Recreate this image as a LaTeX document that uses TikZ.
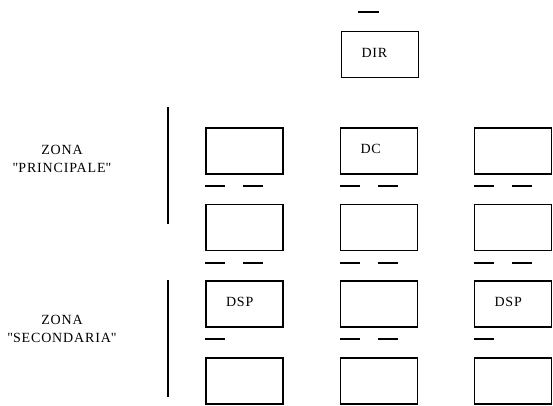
\documentclass[tikz,border=0pt]{standalone}
\usepackage{fontspec}
\setmainfont{Liberation Serif}[LetterSpace=6]
\usetikzlibrary{positioning,calc}

\begin{document}
\begin{tikzpicture}[x=1pt,y=-1pt]
        \tikzset{
            unit/.style={draw, line width=1.4pt, minimum height=46pt,
                text width=37pt, inner xsep=20pt, inner ysep=0pt,
                align=left, text depth=4pt, font=\fontsize{14}{17}\selectfont},
            zone/.style={align=center, font=\fontsize{14}{18.5}\selectfont},
            stub/.style={line width=1.6pt},
            bar/.style={line width=1.6pt},
        }
        \useasboundingbox (0,0) rectangle (553,405);

        % top
        \node[unit] (dir) at (380,54.5) {DIR};

        % zona principale
        \node[unit] (p1l) at (244.5,151) {};
        \node[unit] (dc) at (379,151) {DC};
        \node[unit] (p1r) at (513,151) {};
        \node[unit] (p2l) at (244.5,227.5) {};
        \node[unit] (p2c) at (379,227.5) {};
        \node[unit] (p2r) at (513,227.5) {};

        % zona secondaria
        \node[unit] (dspl) at (244.5,304) {DSP};
        \node[unit] (s1c) at (379,304) {};
        \node[unit] (dspr) at (513,304) {DSP};
        \node[unit] (s2l) at (244.5,381) {};
        \node[unit] (s2c) at (379,381) {};
        \node[unit] (s2r) at (513,381) {};

        \node[zone] (zp) at (62,159) {ZONA\\\textquotedbl PRINCIPALE\textquotedbl};
        \node[zone] (zs) at (62,329) {ZONA\\\textquotedbl SECONDARIA\textquotedbl};

        \draw[bar] (167.7,107) -- (167.7,224);
        \draw[bar] (167.7,280) -- (167.7,397);

        % little marks under the boxes
        \draw[stub] ($(dir.north west)+(17,-19)$) -- ++(21,0);
        \foreach \b in {p1l,dc,p1r,p2l,p2c,p2r,s1c} {
            \draw[stub] ($(\b.south west)+(0,11.5)$) -- ++(20,0);
            \draw[stub] ($(\b.south west)+(38,11.5)$) -- ++(20,0);
        }
        \foreach \b in {dspl,dspr}
            \draw[stub] ($(\b.south west)+(0,11.5)$) -- ++(20,0);
\end{tikzpicture}
\end{document}
